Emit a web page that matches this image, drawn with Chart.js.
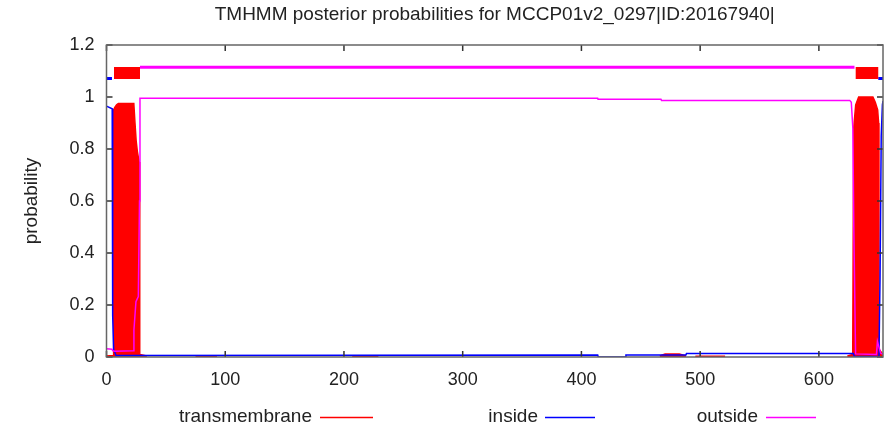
<!DOCTYPE html>
<html>
<head>
	<title>TMHMM posterior probabilities</title>
	<script src="https://cdn.jsdelivr.net/npm/chart.js@4/dist/chart.umd.min.js"></script>
	<style>
		body { margin: 0; background: #fff; }
		#canvas-container { width: 884px; height: 431px; }
	</style>
</head>
<body>
	<div id="canvas-container">
		<canvas id="chart"></canvas>
	</div>
	<script>
		// posterior curves, [residue, probability]; null splits a series
		var transmembrane = [
			[0, 0.004], [5.5, 0.006], [6, 0.95], [7, 0.96], [8.5, 0.97], [10, 0.975], [23, 0.975],
			[24, 0.9], [25, 0.83], [26, 0.79], [27.5, 0.75], [28, 0.01], [34, 0.004], [34, null],
			[75, 0.004], [93, 0.004], [93, null],
			[207, 0.004], [229, 0.004], [229, null],
			[466, 0.004], [470.5, 0.012], [482.5, 0.012], [488, 0.004], [488, null],
			[496, 0.003], [521, 0.003], [521, null],
			[624, 0.004], [628.5, 0.01], [629.3, 0.88], [631, 0.97], [633.5, 1.0], [645.5, 1.0],
			[647.5, 0.98], [649.5, 0.95], [650.3, 0.9], [650.6, 0.03], [654, 0.01]
		];
		var inside = [
			[0, 0.965], [4.8, 0.955], [5.2, 0.16], [6, 0.03], [8, 0.006], [413.7, 0.008], [414.2, 0],
			[437, 0], [437.5, 0.008], [488, 0.008], [488.5, 0.013], [629, 0.013], [630, 0.002],
			[650.6, 0.002], [651.5, 0.3], [652.5, 0.85], [653.5, 0.97], [654, 0.985]
		];
		var outside = [
			[0, 0.032], [4.5, 0.03], [5.5, 0.024], [7, 0.022], [22.5, 0.024], [23.1, 0.104],
			[24.8, 0.213], [26.8, 0.232], [27.8, 0.6], [28.2, 0.995], [413.7, 0.995], [414, 0.991],
			[467, 0.991], [467.5, 0.987], [626, 0.987], [627.3, 0.98], [628.6, 0.88], [629.4, 0.5],
			[630.9, 0.012], [648.5, 0.01], [649.3, 0.06], [650.5, 0.04], [652, 0.015], [654, 0.01]
		];

		// predicted topology drawn above the curves: [from, to] residue ranges
		var topInside = [[0, 4.6], [650, 654]];
		var topTransmembrane = [[6.3, 28.2], [631, 650]];
		var topOutside = [[28.2, 630]];
		var topInsideLevel = 1.071;
		var topTransmembraneLevel = 1.092;
		var topOutsideLevel = 1.114;

		var xTicks = [0, 100, 200, 300, 400, 500, 600];
		var yTicks = [0, 0.2, 0.4, 0.6, 0.8, 1, 1.2];
		var xMax = 654;

		var FONT = "'Liberation Sans', Arial, sans-serif";
		var TEXT = "#222";

		function points(pairs) {
			return pairs.map(function (p) { return { x: p[0], y: p[1] }; });
		}
		function ranges(list, level) {
			var out = [];
			list.forEach(function (r, i) {
				if (i > 0) out.push({ x: r[0], y: null });
				out.push({ x: r[0], y: level });
				out.push({ x: r[1], y: level });
			});
			return out;
		}

		// frame with inward ticks, title and the gnuplot style key underneath
		var decorations = {
			id: "decorations",
			afterDraw: function (chart) {
				var ctx = chart.ctx, a = chart.chartArea;
				var xs = chart.scales.x, ys = chart.scales.y;
				ctx.save();
				ctx.strokeStyle = "#333";
				ctx.lineWidth = 1.5;
				ctx.beginPath();
				xTicks.forEach(function (v) {
					var px = xs.getPixelForValue(v);
					ctx.moveTo(px, a.bottom); ctx.lineTo(px, a.bottom - 6);
					ctx.moveTo(px, a.top); ctx.lineTo(px, a.top + 6);
				});
				yTicks.forEach(function (v) {
					var py = ys.getPixelForValue(v);
					ctx.moveTo(a.left, py); ctx.lineTo(a.left + 6, py);
					ctx.moveTo(a.right, py); ctx.lineTo(a.right - 6, py);
				});
				ctx.stroke();
				ctx.strokeStyle = "#666";
				ctx.strokeRect(a.left, a.top, a.right - a.left, a.bottom - a.top);

				ctx.fillStyle = TEXT;
				ctx.font = "19px " + FONT;
				ctx.textAlign = "center";
				ctx.textBaseline = "middle";
				ctx.fillText("TMHMM posterior probabilities for MCCP01v2_0297|ID:20167940|", (a.left + a.right) / 2, 15);

				var key = [
					{ ds: 0, textRight: 312, from: 320, to: 373 },
					{ ds: 1, textRight: 538, from: 545, to: 595 },
					{ ds: 2, textRight: 758, from: 766, to: 816 }
				];
				var keyY = 417;
				ctx.textAlign = "right";
				key.forEach(function (k) {
					var d = chart.data.datasets[k.ds];
					ctx.fillStyle = TEXT;
					ctx.fillText(d.label, k.textRight, keyY);
					ctx.strokeStyle = d.borderColor;
					ctx.lineWidth = 1.5;
					ctx.beginPath();
					ctx.moveTo(k.from, keyY + 0.5); ctx.lineTo(k.to, keyY + 0.5);
					ctx.stroke();
				});
				ctx.restore();
			}
		};

		var canvas = document.getElementById("chart").getContext("2d");
		window.tmhmm = new Chart(canvas, {
			type: "line",
			data: {
				datasets: [
					{
						label: "transmembrane",
						data: points(transmembrane),
						borderColor: "#ff0000",
						backgroundColor: "#ff0000",
						borderWidth: 1.5,
						fill: "origin",
						order: 3
					},
					{
						label: "inside",
						data: points(inside),
						borderColor: "#0000ff",
						borderWidth: 1.5,
						fill: false,
						order: 2
					},
					{
						label: "outside",
						data: points(outside),
						borderColor: "#ff00ff",
						borderWidth: 1.5,
						fill: false,
						order: 1
					},
					{
						label: "",
						data: ranges(topTransmembrane, topTransmembraneLevel),
						borderColor: "#ff0000",
						borderWidth: 12,
						borderCapStyle: "butt",
						fill: false,
						order: 4
					},
					{
						label: "",
						data: ranges(topInside, topInsideLevel),
						borderColor: "#0000ff",
						borderWidth: 3,
						borderCapStyle: "butt",
						fill: false,
						order: 4
					},
					{
						label: "",
						data: ranges(topOutside, topOutsideLevel),
						borderColor: "#ff00ff",
						borderWidth: 3,
						borderCapStyle: "butt",
						fill: false,
						order: 4
					}
				]
			},
			options: {
				responsive: true,
				maintainAspectRatio: false,
				animation: false,
				spanGaps: false,
				elements: {
					point: { radius: 0, hoverRadius: 0 },
					line: { tension: 0 }
				},
				layout: { padding: { top: 45, right: 1, left: 0, bottom: 0 } },
				plugins: {
					legend: { display: false },
					title: { display: false },
					tooltip: { enabled: false }
				},
				scales: {
					x: {
						type: "linear",
						min: 0,
						max: xMax,
						grid: { display: false, drawTicks: false },
						border: { display: false },
						afterBuildTicks: function (scale) {
							scale.ticks = xTicks.map(function (v) { return { value: v }; });
						},
						afterFit: function (scale) { scale.height = 74; },
						ticks: {
							padding: 12,
							maxRotation: 0,
							autoSkip: false,
							color: TEXT,
							font: { family: FONT, size: 18 },
							callback: function (v) { return String(v); }
						}
					},
					y: {
						min: 0,
						max: 1.2,
						grid: { display: false, drawTicks: false },
						border: { display: false },
						afterBuildTicks: function (scale) {
							scale.ticks = yTicks.map(function (v) { return { value: v }; });
						},
						afterFit: function (scale) { scale.width = 106.5; },
						title: {
							display: true,
							text: "probability",
							color: TEXT,
							font: { family: FONT, size: 19 },
							padding: { top: 20, bottom: 0 }
						},
						ticks: {
							padding: 12,
							color: TEXT,
							font: { family: FONT, size: 18 },
							callback: function (v) { return String(Math.round(v * 10) / 10); }
						}
					}
				}
			},
			plugins: [decorations]
		});
	</script>
</body>
</html>
